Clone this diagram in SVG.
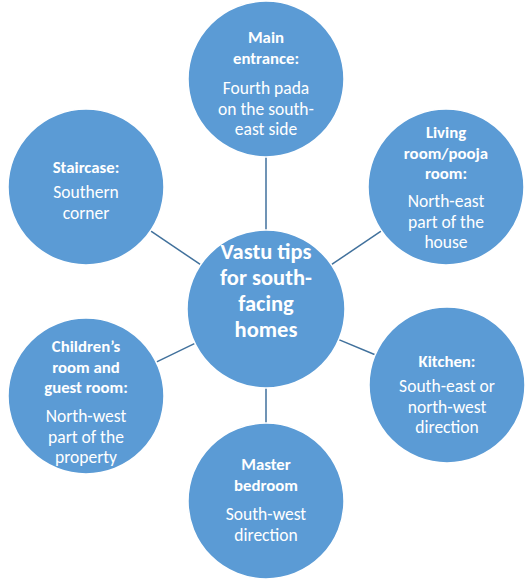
<svg xmlns="http://www.w3.org/2000/svg" width="531" height="586" viewBox="0 0 531 586">
<style>
.c{fill:#5B9BD5;stroke:#FFFFFF;stroke-width:1.5}
.t{font-family:"Carlito","Lato",sans-serif;fill:#FFFFFF;text-anchor:middle}
.b{font-weight:bold;font-size:16.8px}
.r{font-size:17.5px}
.m{font-weight:bold;font-size:22.5px}
.ln{stroke:#41719C;stroke-width:1.5;fill:none}
</style>
<rect width="531" height="586" fill="#FFFFFF"/>
<g id="connectors">
<line class="ln" x1="266" y1="230" x2="266" y2="157"/>
<line class="ln" x1="266" y1="388" x2="266" y2="423"/>
<line class="ln" x1="200.6" y1="264.7" x2="150.6" y2="230.8"/>
<line class="ln" x1="331.4" y1="264.7" x2="381.4" y2="230.8"/>
<line class="ln" x1="194.9" y1="343.4" x2="156.2" y2="362.1"/>
<line class="ln" x1="338.8" y1="339.6" x2="375.1" y2="354.8"/>
</g>
<g id="center">
<circle class="c" cx="266" cy="309" r="79"/>
<text class="t m" x="266" y="259">Vastu tips</text>
<text class="t m" x="266" y="285">for south-</text>
<text class="t m" x="266" y="311">facing</text>
<text class="t m" x="266" y="337">homes</text>
</g>
<g id="main-entrance">
<circle class="c" cx="266" cy="79" r="78"/>
<text class="t b" x="266" y="43">Main</text>
<text class="t b" x="266" y="63.5">entrance:</text>
<text class="t r" x="266" y="94">Fourth pada</text>
<text class="t r" x="266" y="114.5">on the south-</text>
<text class="t r" x="266" y="135">east side</text>
</g>
<g id="staircase">
<circle class="c" cx="86" cy="187" r="78"/>
<text class="t b" x="86" y="173">Staircase:</text>
<text class="t r" x="86" y="198">Southern</text>
<text class="t r" x="86" y="218.5">corner</text>
</g>
<g id="living-room">
<circle class="c" cx="446" cy="187" r="78"/>
<text class="t b" x="446" y="138">Living</text>
<text class="t b" x="446" y="158.5">room/pooja</text>
<text class="t b" x="446" y="179">room:</text>
<text class="t r" x="446" y="207">North-east</text>
<text class="t r" x="446" y="227.5">part of the</text>
<text class="t r" x="446" y="248">house</text>
</g>
<g id="childrens-room">
<circle class="c" cx="86" cy="396" r="78"/>
<text class="t b" x="86" y="352">Children’s</text>
<text class="t b" x="86" y="372.5">room and</text>
<text class="t b" x="86" y="393">guest room:</text>
<text class="t r" x="86" y="422">North-west</text>
<text class="t r" x="86" y="442.5">part of the</text>
<text class="t r" x="86" y="463">property</text>
</g>
<g id="kitchen">
<circle class="c" cx="447" cy="385" r="78"/>
<text class="t b" x="447" y="367">Kitchen:</text>
<text class="t r" x="447" y="392">South-east or</text>
<text class="t r" x="447" y="412.5">north-west</text>
<text class="t r" x="447" y="433">direction</text>
</g>
<g id="master-bedroom">
<circle class="c" cx="266" cy="501" r="78"/>
<text class="t b" x="266" y="470">Master</text>
<text class="t b" x="266" y="490.5">bedroom</text>
<text class="t r" x="266" y="520">South-west</text>
<text class="t r" x="266" y="540.5">direction</text>
</g>
</svg>
